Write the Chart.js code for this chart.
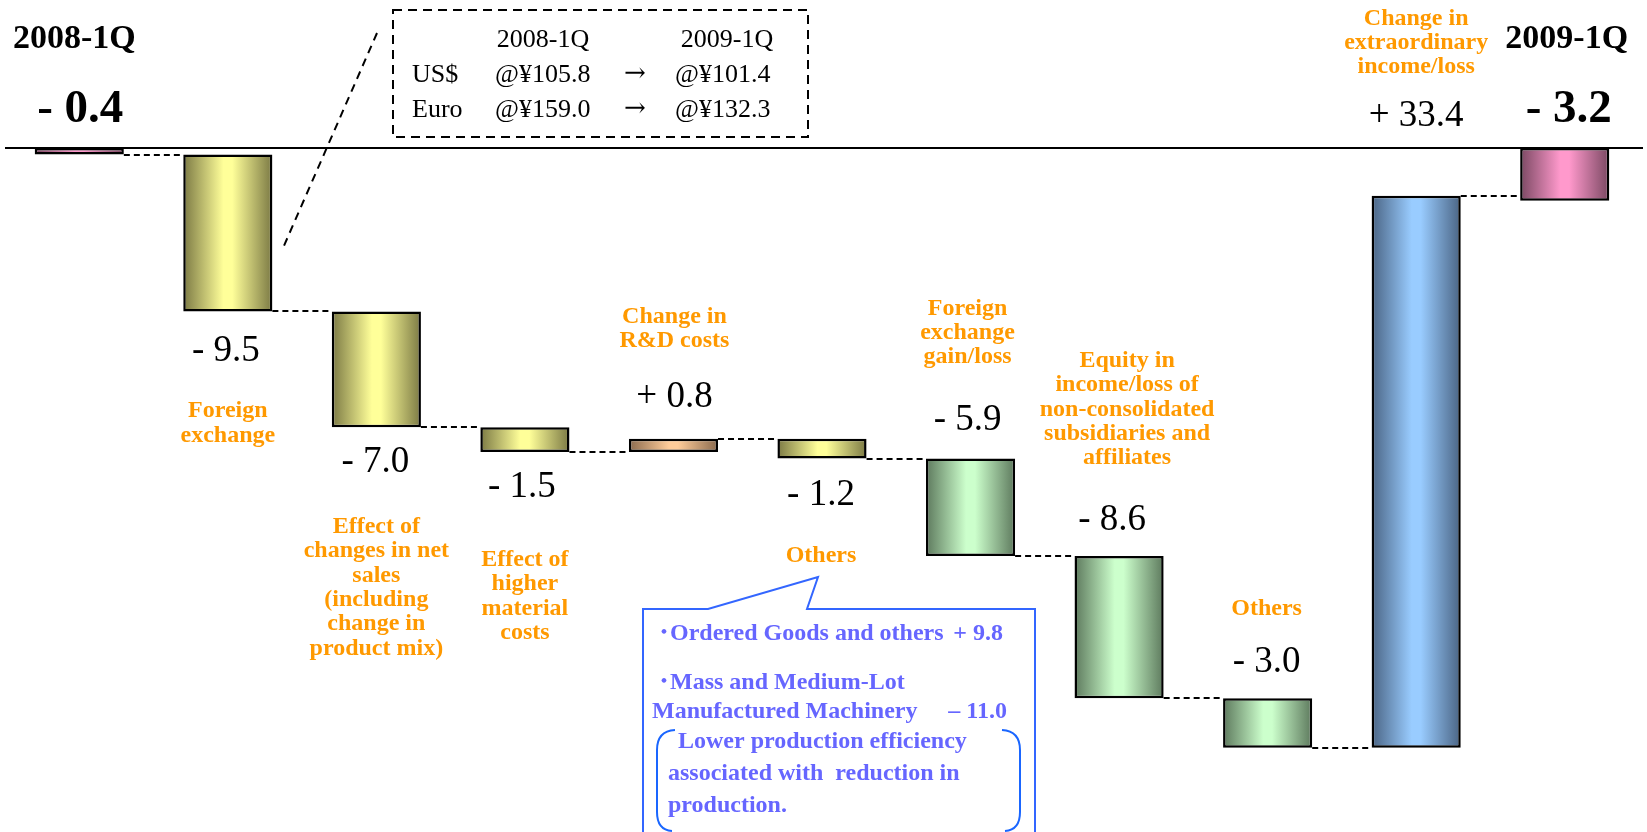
<!DOCTYPE html>
<html>
<head>
<meta charset="utf-8">
<title>Ordinary income 2008-1Q → 2009-1Q</title>
<script src="https://cdn.jsdelivr.net/npm/chart.js@4.4.1/dist/chart.umd.min.js"></script>
<style>
  html, body { margin: 0; padding: 0; background: #fff; overflow: hidden; }
  canvas { display: block; }
</style>
</head>
<body>
<canvas id="bridge-chart" width="1647" height="832"></canvas>
<script>
'use strict'

// 増減要因（先頭と末尾は四半期実績）
const categories = [
  ['2008-1Q'],
  ['Foreign', 'exchange'],
  ['Effect of', 'changes in net', 'sales', '(including', 'change in', 'product mix)'],
  ['Effect of', 'higher', 'material', 'costs'],
  ['Change in', 'R&D costs'],
  ['Others'],
  ['Foreign', 'exchange', 'gain/loss'],
  ['Equity in', 'income/loss of', 'non-consolidated', 'subsidiaries and', 'affiliates'],
  ['Others'],
  ['Change in', 'extraordinary', 'income/loss'],
  ['2009-1Q'],
];
const changes = [-0.4, -9.5, -7.0, -1.5, 0.8, -1.2, -5.9, -8.6, -3.0, 33.4, -3.2];
const isTotal = [true, false, false, false, false, false, false, false, false, false, true];
const colorGroup = ['pink', 'yellow', 'yellow', 'yellow', 'orange', 'yellow', 'green', 'green', 'green', 'blue', 'pink'];

// 為替レート
const rateYears = ['2008-1Q', '2009-1Q'];
const rateCurrencies = ['US$', 'Euro'];
const ratesFrom = [105.8, 159.0];
const ratesTo = [101.4, 132.3];

// その他の内訳
const othersItems = ['･Ordered Goods and others', '･Mass and Medium-Lot', 'Manufactured Machinery'];
const othersValues = ['+ 9.8', null, '– 11.0'];
const othersNote = [' Lower production efficiency', 'associated with  reduction in', 'production.'];

// 積み上げ
let level = 0;
const spans = changes.map((v, i) => {
  if (isTotal[i]) { level = v; return [0, v]; }
  const s = [level, +(level + v).toFixed(1)];
  level = s[1];
  return s;
});

const palette = {
  pink: ['#7a4862', '#ff99cc'],
  yellow: ['#7b7944', '#ffff99'],
  orange: ['#8a6a4e', '#ffcc99'],
  green: ['#5d795d', '#ccffcc'],
  blue: ['#4a6484', '#99ccff'],
};

const SERIF = "'Liberation Serif', 'Times New Roman', serif";

// 数値ラベルと項目名の位置 [基準, dy, dx]
const valueAt = [['zero', -26, 1], ['bottom', 50, -2], ['bottom', 45, -1], ['bottom', 45, -3], ['top', -32, 1],
  ['bottom', 46, -1], ['top', -29, -3], ['top', -26, -7], ['top', -26, -1], ['zero', -22, 0], ['zero', -26, 4]];
const nameAt = [['zero', -100, -5], ['bottom', 106, 0], ['bottom', 106, 0], ['bottom', 114, 0], ['top', -116, 1],
  ['bottom', 103, -1], ['top', -144, -3], ['top', -189, 8], ['top', -83, -1], ['zero', -123, 0], ['zero', -100, 2]];

function barHalf(chart) {
  const a = chart.chartArea;
  return (a.right - a.left) / categories.length * 0.6 / 2;
}

function barFill(c) {
  const chart = c.chart;
  if (!chart.chartArea || c.dataIndex === undefined) return '#ccc';
  const [dark, light] = palette[colorGroup[c.dataIndex]];
  const cx = chart.scales.x.getPixelForValue(c.dataIndex);
  const h = barHalf(chart);
  const g = chart.ctx.createLinearGradient(cx - h, 0, cx + h, 0);
  g.addColorStop(0, dark);
  g.addColorStop(0.45, light);
  g.addColorStop(0.55, light);
  g.addColorStop(1, dark);
  return g;
}

function fmt(v) {
  return (v < 0 ? '- ' : '+ ') + Math.abs(v).toFixed(1);
}

function anchorY(chart, i, ref) {
  const y = chart.scales.y;
  if (ref === 'zero') return y.getPixelForValue(0);
  if (ref === 'top') return y.getPixelForValue(Math.max(...spans[i]));
  return y.getPixelForValue(Math.min(...spans[i]));
}

const bridgePlugin = {
  id: 'bridge',
  beforeDatasetsDraw(chart) {
    const { ctx, scales: { x, y } } = chart;
    const zeroY = y.getPixelForValue(0);
    const half = barHalf(chart);
    ctx.save();

    // 基準線
    ctx.strokeStyle = '#000';
    ctx.lineWidth = 2;
    ctx.beginPath();
    ctx.moveTo(5, zeroY);
    ctx.lineTo(1643, zeroY);
    ctx.stroke();

    // バー間の点線
    ctx.lineWidth = 2;
    ctx.setLineDash([6, 4]);
    ctx.beginPath();
    for (let i = 0; i < spans.length - 1; i++) {
      const yy = Math.round(y.getPixelForValue(spans[i][1]));
      ctx.moveTo(x.getPixelForValue(i) + half, yy);
      ctx.lineTo(x.getPixelForValue(i + 1) - half, yy);
    }
    ctx.stroke();

    // 為替レートの枠
    ctx.setLineDash([9, 6]);
    ctx.strokeRect(393, 10, 415, 127);
    ctx.setLineDash([8, 6]);
    ctx.beginPath();
    ctx.moveTo(377, 33);
    ctx.lineTo(283, 248);
    ctx.stroke();
    ctx.setLineDash([]);

    ctx.fillStyle = '#000';
    ctx.font = '26px ' + SERIF;
    ctx.textBaseline = 'alphabetic';
    ctx.textAlign = 'center';
    ctx.fillText(rateYears[0], 543, 47);
    ctx.fillText(rateYears[1], 727, 47);
    rateCurrencies.forEach((cur, k) => {
      const by = 82 + k * 35;
      ctx.font = '26px ' + SERIF;
      ctx.textAlign = 'left';
      ctx.fillText(cur, 412, by);
      ctx.fillText('@¥' + ratesFrom[k].toFixed(1), 495, by);
      ctx.fillText('@¥' + ratesTo[k].toFixed(1), 675, by);
      ctx.textAlign = 'center';
      ctx.font = "26px 'DejaVu Serif'";
      ctx.fillText('→', 635, by - 1);
    });

    // その他の吹き出し
    ctx.strokeStyle = '#3366ff';
    ctx.lineWidth = 2;
    ctx.beginPath();
    ctx.moveTo(643, 840);
    ctx.lineTo(643, 609);
    ctx.lineTo(708, 609);
    ctx.lineTo(818, 577);
    ctx.lineTo(807, 609);
    ctx.lineTo(1035, 609);
    ctx.lineTo(1035, 840);
    ctx.stroke();

    ctx.strokeStyle = '#1a66ff';
    ctx.beginPath();
    ctx.moveTo(675, 730);
    ctx.quadraticCurveTo(657, 731, 657, 750);
    ctx.lineTo(657, 812);
    ctx.quadraticCurveTo(657, 830, 672, 831);
    ctx.moveTo(1002, 730);
    ctx.quadraticCurveTo(1020, 731, 1020, 750);
    ctx.lineTo(1020, 812);
    ctx.quadraticCurveTo(1020, 830, 1005, 831);
    ctx.stroke();

    ctx.fillStyle = '#6666ff';
    ctx.font = "bold 24px " + SERIF + ", 'Noto Sans CJK JP'";
    ctx.textAlign = 'left';
    ctx.fillText(othersItems[0], 658, 640);
    ctx.fillText(othersItems[1], 658, 689);
    ctx.fillText(othersItems[2], 652, 718);
    ctx.textAlign = 'right';
    ctx.fillText(othersValues[0], 1003, 640);
    ctx.fillText(othersValues[2], 1007, 718);
    ctx.textAlign = 'left';
    ctx.fillText(othersNote[0], 672, 748);
    ctx.fillText(othersNote[1], 668, 780);
    ctx.fillText(othersNote[2], 668, 812);

    ctx.restore();
  },
  afterDatasetsDraw(chart) {
    const { ctx, scales: { x } } = chart;
    ctx.save();
    ctx.textAlign = 'center';
    ctx.textBaseline = 'alphabetic';
    categories.forEach((lines, i) => {
      const cx = x.getPixelForValue(i);

      // 数値
      const [vr, vdy, vdx] = valueAt[i];
      ctx.fillStyle = '#000';
      ctx.font = (isTotal[i] ? 'bold 47px ' : '37px ') + SERIF;
      ctx.fillText(fmt(changes[i]), cx + vdx, anchorY(chart, i, vr) + vdy);

      // 項目名
      const [nr, ndy, ndx] = nameAt[i];
      const by = anchorY(chart, i, nr) + ndy;
      if (isTotal[i]) {
        ctx.fillStyle = '#000';
        ctx.font = 'bold 34px ' + SERIF;
      } else {
        ctx.fillStyle = '#ff9900';
        ctx.font = 'bold 24px ' + SERIF;
      }
      lines.forEach((t, k) => ctx.fillText(t, cx + ndx, by + k * 24.3));
    });
    ctx.restore();
  },
};

new Chart(document.getElementById('bridge-chart').getContext('2d'), {
  type: 'bar',
  data: {
    labels: categories,
    datasets: [{
      data: spans,
      backgroundColor: barFill,
      borderColor: '#000',
      borderWidth: 2.5,
      borderSkipped: false,
      barPercentage: 0.6,
      categoryPercentage: 1,
    }],
  },
  options: {
    responsive: false,
    animation: false,
    layout: { padding: { left: 5, right: 8, top: 0, bottom: 0 } },
    plugins: { legend: { display: false }, tooltip: { enabled: false } },
    scales: {
      x: { display: false },
      y: { display: false, min: -41.4, max: 8.95 },
    },
  },
  plugins: [bridgePlugin],
});
</script>
</body>
</html>
